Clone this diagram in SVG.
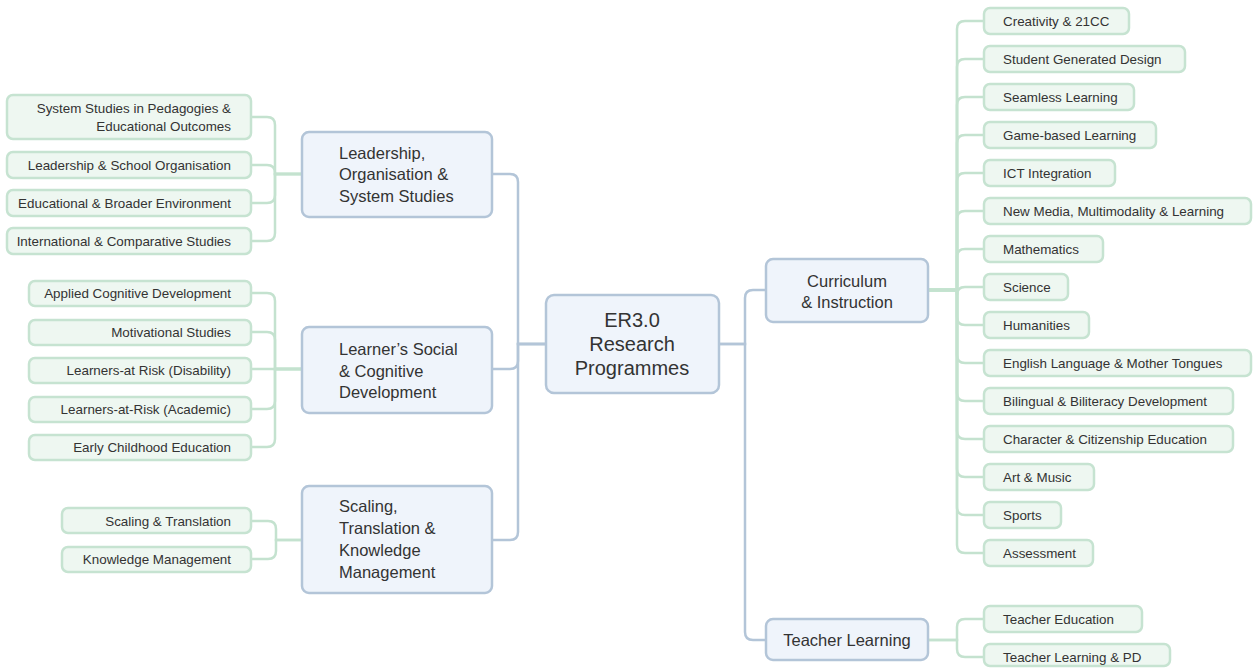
<svg xmlns="http://www.w3.org/2000/svg" width="1253" height="668" viewBox="0 0 1253 668">
<style>
.leaf rect{fill:#eef7f1;stroke:#c6e3d1;stroke-width:2.5}
.main rect{fill:#eff4fb;stroke:#b3c5d8;stroke-width:2.5}
text{font-family:"Liberation Sans",Arial,sans-serif;fill:#333}
.leaf text{font-size:13.4px}
.main text{font-size:16.5px}
.l text{text-anchor:end}
.c{text-anchor:middle}
.gc{fill:none;stroke:#c4e2cf;stroke-width:2.5}
.bc{fill:none;stroke:#b3c5d8;stroke-width:2.5}
</style>
<rect width="1253" height="668" fill="#fff"/>
<g id="connectors">
<path class="bc" d="M546,344 H518 V182 Q518,174 510,174 H492"/>
<path class="bc" d="M546,344 H518 V361 Q518,369 510,369 H492"/>
<path class="bc" d="M546,344 H518 V532 Q518,540 510,540 H492"/>
<path class="bc" d="M719,344 H745 V298 Q745,290 753,290 H766"/>
<path class="bc" d="M719,344 H745 V632 Q745,640 753,640 H766"/>
<path class="gc" d="M302,174 H275 V125 Q275,117 267,117 H251"/>
<path class="gc" d="M302,174 H275 V173 Q275,165 267,165 H251"/>
<path class="gc" d="M302,174 H275 V195 Q275,203 267,203 H251"/>
<path class="gc" d="M302,174 H275 V233 Q275,241 267,241 H251"/>
<path class="gc" d="M302,369 H275 V301 Q275,293 267,293 H251"/>
<path class="gc" d="M302,369 H275 V340 Q275,332 267,332 H251"/>
<path class="gc" d="M302,369 H251"/>
<path class="gc" d="M302,369 H275 V401 Q275,409 267,409 H251"/>
<path class="gc" d="M302,369 H275 V439 Q275,447 267,447 H251"/>
<path class="gc" d="M302,540 H276 V529 Q276,521 268,521 H251"/>
<path class="gc" d="M302,540 H276 V551 Q276,559 268,559 H251"/>
<path class="gc" d="M928,290 H957 V29 Q957,21 965,21 H984"/>
<path class="gc" d="M928,290 H957 V67 Q957,59 965,59 H984"/>
<path class="gc" d="M928,290 H957 V105 Q957,97 965,97 H984"/>
<path class="gc" d="M928,290 H957 V143 Q957,135 965,135 H984"/>
<path class="gc" d="M928,290 H957 V181 Q957,173 965,173 H984"/>
<path class="gc" d="M928,290 H957 V219 Q957,211 965,211 H984"/>
<path class="gc" d="M928,290 H957 V257 Q957,249 965,249 H984"/>
<path class="gc" d="M928,290 H957 V295 Q957,287 965,287 H984"/>
<path class="gc" d="M928,290 H957 V317 Q957,325 965,325 H984"/>
<path class="gc" d="M928,290 H957 V355 Q957,363 965,363 H984"/>
<path class="gc" d="M928,290 H957 V393 Q957,401 965,401 H984"/>
<path class="gc" d="M928,290 H957 V431 Q957,439 965,439 H984"/>
<path class="gc" d="M928,290 H957 V469 Q957,477 965,477 H984"/>
<path class="gc" d="M928,290 H957 V507 Q957,515 965,515 H984"/>
<path class="gc" d="M928,290 H957 V545 Q957,553 965,553 H984"/>
<path class="gc" d="M928,640 H957 V627 Q957,619 965,619 H984"/>
<path class="gc" d="M928,640 H957 V649 Q957,657 965,657 H984"/>
</g>
<g id="root" class="main"><rect x="546" y="295" width="173" height="98" rx="8"/>
<text class="c" x="632" y="327" style="font-size:20px">ER3.0</text>
<text class="c" x="632" y="351" style="font-size:20px">Research</text>
<text class="c" x="632" y="375" style="font-size:20px">Programmes</text></g>
<g id="leadership" class="main"><rect x="302" y="132" width="190" height="85" rx="7"/>
<text x="339" y="159">Leadership,</text><text x="339" y="180">Organisation &amp;</text><text x="339" y="202">System Studies</text></g>
<g id="learner" class="main"><rect x="302" y="327" width="190" height="86" rx="7"/>
<text x="339" y="355">Learner’s Social</text><text x="339" y="377">&amp; Cognitive</text><text x="339" y="398">Development</text></g>
<g id="scaling" class="main"><rect x="302" y="486" width="190" height="107" rx="7"/>
<text x="339" y="512">Scaling,</text><text x="339" y="534">Translation &amp;</text><text x="339" y="556">Knowledge</text><text x="339" y="578">Management</text></g>
<g id="curriculum" class="main"><rect x="766" y="259" width="162" height="63" rx="7"/>
<text class="c" x="847" y="287">Curriculum</text><text class="c" x="847" y="308">&amp; Instruction</text></g>
<g id="teacher" class="main"><rect x="766" y="619" width="162" height="41" rx="7"/>
<text class="c" x="847" y="646">Teacher Learning</text></g>
<g id="l1" class="leaf l"><rect x="7" y="95" width="244" height="44" rx="6"/><text x="231" y="113">System Studies in Pedagogies &amp;</text><text x="231" y="131">Educational Outcomes</text></g>
<g id="l2" class="leaf l"><rect x="7" y="152" width="244" height="26" rx="6"/><text x="231" y="170">Leadership &amp; School Organisation</text></g>
<g id="l3" class="leaf l"><rect x="7" y="190" width="244" height="26" rx="6"/><text x="231" y="208">Educational &amp; Broader Environment</text></g>
<g id="l4" class="leaf l"><rect x="7" y="228" width="244" height="26" rx="6"/><text x="231" y="246">International &amp; Comparative Studies</text></g>
<g id="l5" class="leaf l"><rect x="29" y="281" width="222" height="25" rx="6"/><text x="231" y="298">Applied Cognitive Development</text></g>
<g id="l6" class="leaf l"><rect x="29" y="320" width="222" height="25" rx="6"/><text x="231" y="337">Motivational Studies</text></g>
<g id="l7" class="leaf l"><rect x="29" y="358" width="222" height="25" rx="6"/><text x="231" y="375">Learners-at Risk (Disability)</text></g>
<g id="l8" class="leaf l"><rect x="29" y="397" width="222" height="25" rx="6"/><text x="231" y="414">Learners-at-Risk (Academic)</text></g>
<g id="l9" class="leaf l"><rect x="29" y="435" width="222" height="25" rx="6"/><text x="231" y="452">Early Childhood Education</text></g>
<g id="l10" class="leaf l"><rect x="62" y="508" width="189" height="25" rx="6"/><text x="231" y="526">Scaling &amp; Translation</text></g>
<g id="l11" class="leaf l"><rect x="62" y="547" width="189" height="25" rx="6"/><text x="231" y="564">Knowledge Management</text></g>
<g id="r1" class="leaf"><rect x="984" y="8" width="145" height="26" rx="6"/><text x="1003" y="26">Creativity &amp; 21CC</text></g>
<g id="r2" class="leaf"><rect x="984" y="46" width="201" height="26" rx="6"/><text x="1003" y="64">Student Generated Design</text></g>
<g id="r3" class="leaf"><rect x="984" y="84" width="150" height="26" rx="6"/><text x="1003" y="102">Seamless Learning</text></g>
<g id="r4" class="leaf"><rect x="984" y="122" width="172" height="26" rx="6"/><text x="1003" y="140">Game-based Learning</text></g>
<g id="r5" class="leaf"><rect x="984" y="160" width="131" height="26" rx="6"/><text x="1003" y="178">ICT Integration</text></g>
<g id="r6" class="leaf"><rect x="984" y="198" width="267" height="26" rx="6"/><text x="1003" y="216">New Media, Multimodality &amp; Learning</text></g>
<g id="r7" class="leaf"><rect x="984" y="236" width="119" height="26" rx="6"/><text x="1003" y="254">Mathematics</text></g>
<g id="r8" class="leaf"><rect x="984" y="274" width="84" height="26" rx="6"/><text x="1003" y="292">Science</text></g>
<g id="r9" class="leaf"><rect x="984" y="312" width="105" height="26" rx="6"/><text x="1003" y="330">Humanities</text></g>
<g id="r10" class="leaf"><rect x="984" y="350" width="267" height="26" rx="6"/><text x="1003" y="368">English Language &amp; Mother Tongues</text></g>
<g id="r11" class="leaf"><rect x="984" y="388" width="249" height="26" rx="6"/><text x="1003" y="406">Bilingual &amp; Biliteracy Development</text></g>
<g id="r12" class="leaf"><rect x="984" y="426" width="249" height="26" rx="6"/><text x="1003" y="444">Character &amp; Citizenship Education</text></g>
<g id="r13" class="leaf"><rect x="984" y="464" width="110" height="26" rx="6"/><text x="1003" y="482">Art &amp; Music</text></g>
<g id="r14" class="leaf"><rect x="984" y="502" width="77" height="26" rx="6"/><text x="1003" y="520">Sports</text></g>
<g id="r15" class="leaf"><rect x="984" y="540" width="109" height="26" rx="6"/><text x="1003" y="558">Assessment</text></g>
<g id="r16" class="leaf"><rect x="984" y="606" width="158" height="26" rx="6"/><text x="1003" y="624">Teacher Education</text></g>
<g id="r17" class="leaf"><rect x="984" y="644" width="186" height="22" rx="6"/><text x="1003" y="662">Teacher Learning &amp; PD</text></g>
</svg>
